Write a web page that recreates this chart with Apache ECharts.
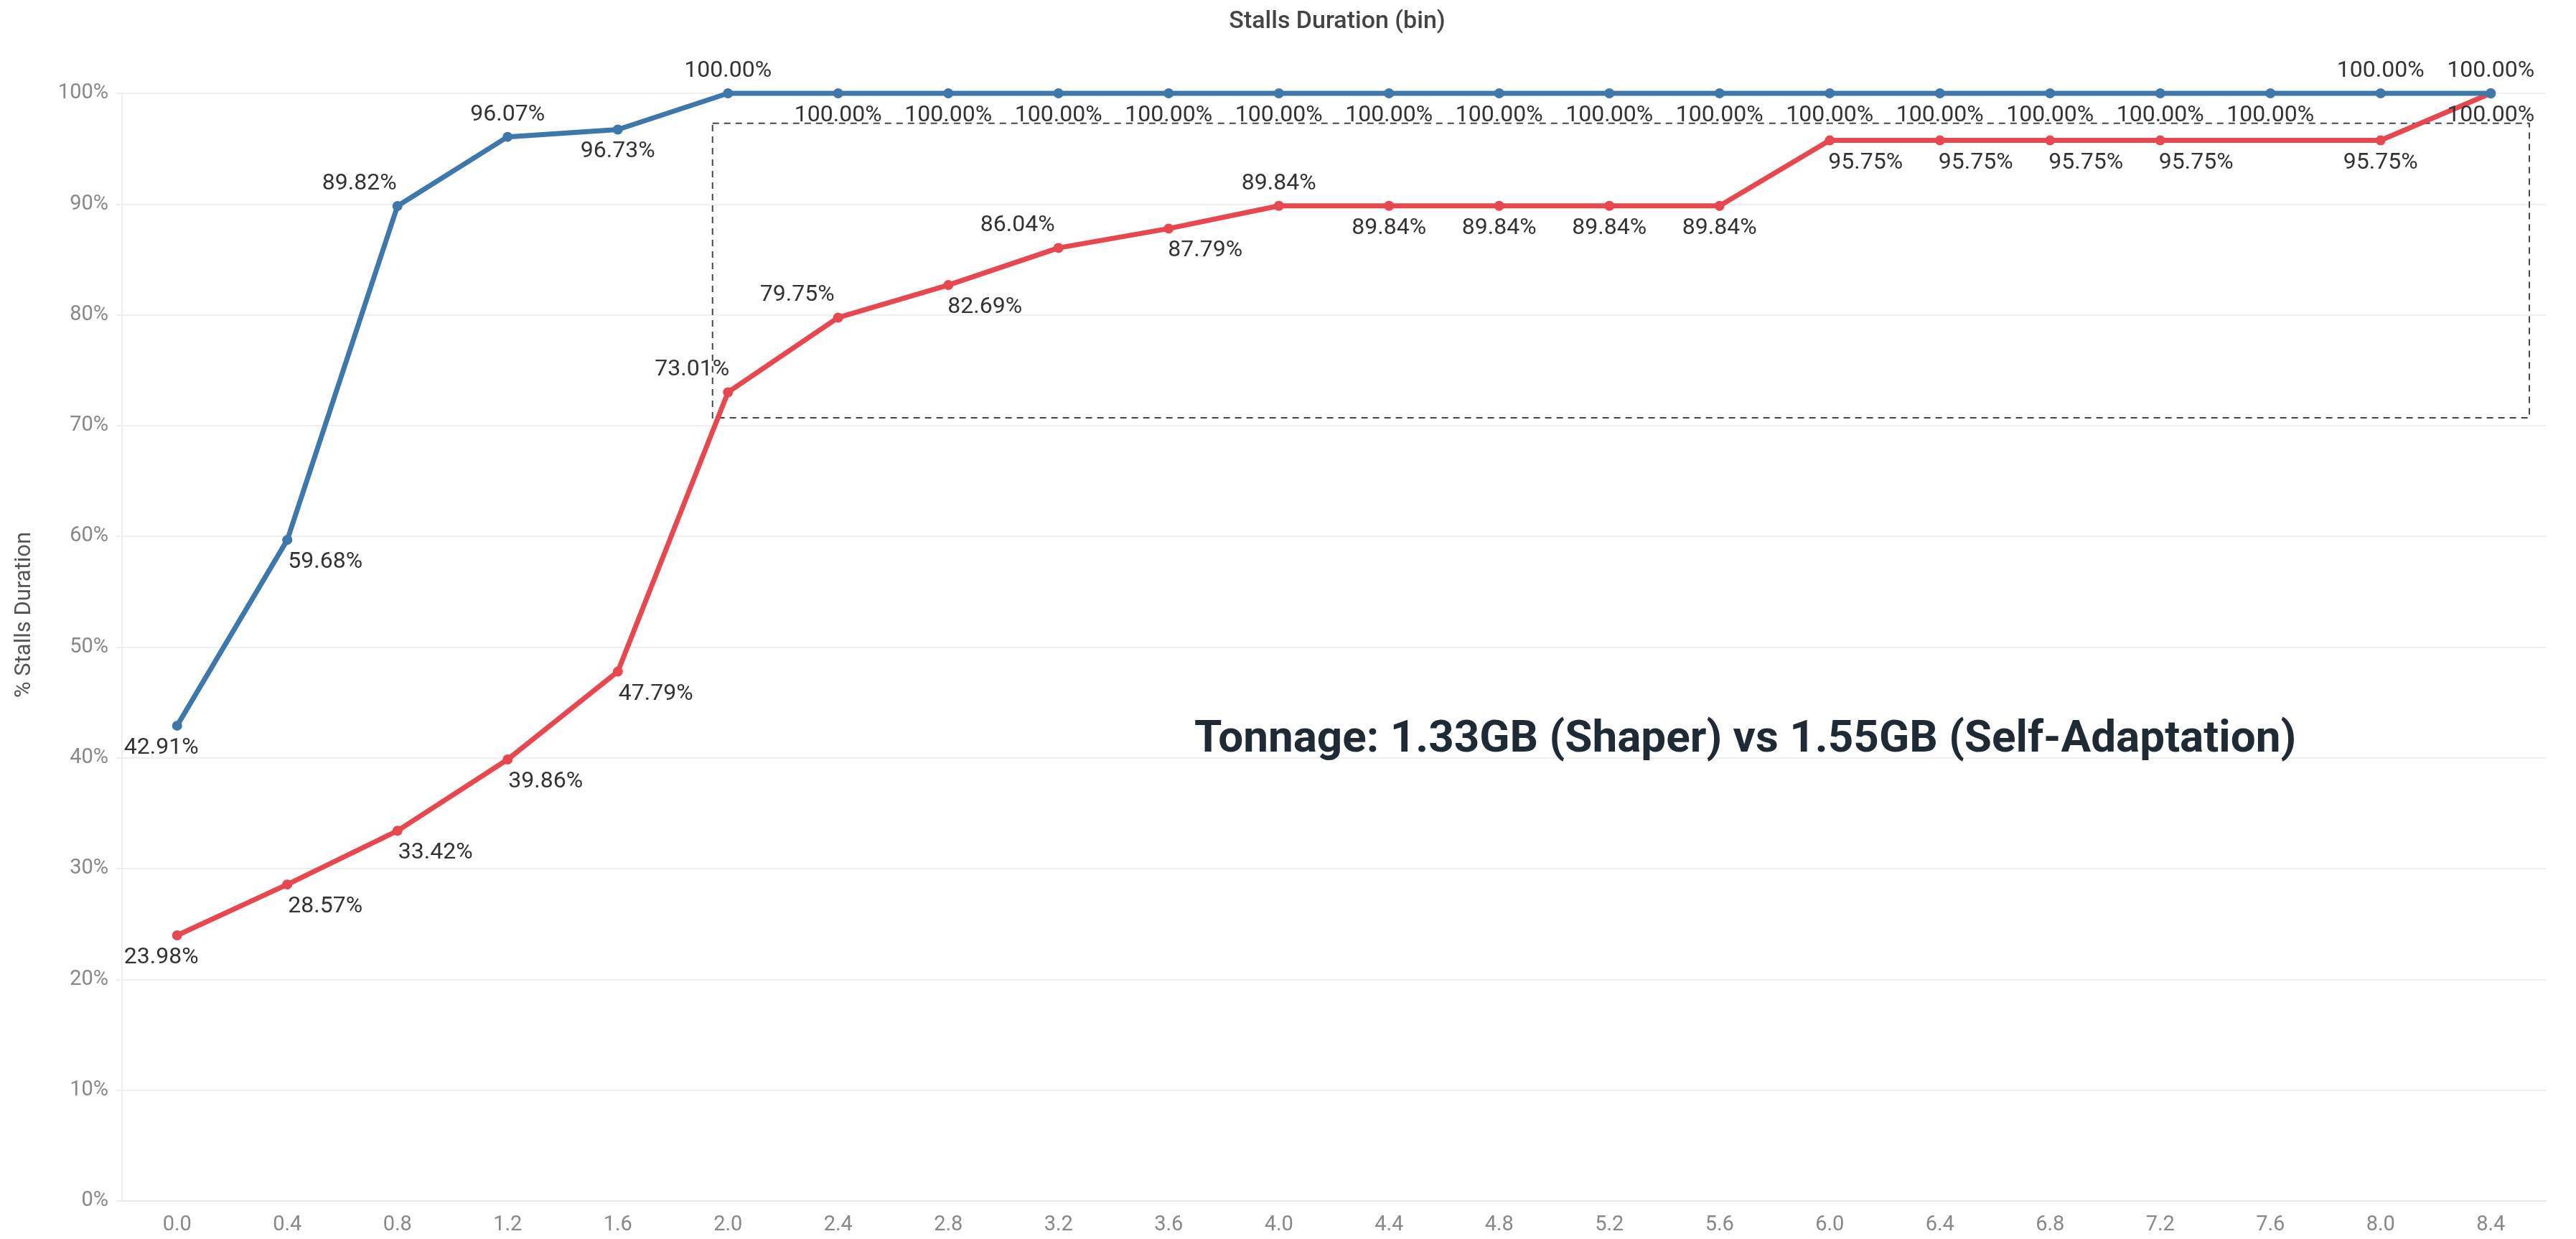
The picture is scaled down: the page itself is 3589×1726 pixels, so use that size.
<!DOCTYPE html>
<html>
<head>
<meta charset="utf-8">
<script src="https://cdn.jsdelivr.net/npm/echarts@6/dist/echarts.min.js"></script>
<style>
  html, body { margin: 0; padding: 0; background: #fff; }
  #main { width: 3589px; height: 1726px; }
</style>
</head>
<body>
<div id="main"></div>
<script>
// bins of stall duration (x axis)
const bins = ['0.0', '0.4', '0.8', '1.2', '1.6', '2.0', '2.4', '2.8', '3.2', '3.6', '4.0',
  '4.4', '4.8', '5.2', '5.6', '6.0', '6.4', '6.8', '7.2', '7.6', '8.0', '8.4'];
// cumulative % of stalls duration, blue line
const blueLine = [42.91, 59.68, 89.82, 96.07, 96.73, 100, 100, 100, 100, 100, 100,
  100, 100, 100, 100, 100, 100, 100, 100, 100, 100, 100];
// red line (no bin at 7.6)
const redLine = [23.98, 28.57, 33.42, 39.86, 47.79, 73.01, 79.75, 82.69, 86.04, 87.79, 89.84,
  89.84, 89.84, 89.84, 89.84, 95.75, 95.75, 95.75, 95.75, null, 95.75, 100];
const note = 'Tonnage: 1.33GB (Shaper) vs 1.55GB (Self-Adaptation)';
// dashed box: from bin to bin, value range
const boxBins = ['2.0', '8.4'];
const boxRange = [70.7, 97.3];

// label placement: [position, x offset]
const B = ['bottom', 0], T = ['top', 0];
const blueLab = [['bottom', -22], ['bottom', 53], ['top', -53], T, B, T,
  B, B, B, B, B, B, B, B, B, B, B, B, B, B, T, T];
const redLab = [['bottom', -22], ['bottom', 53], ['bottom', 53], ['bottom', 53], ['bottom', 53],
  ['top', -50], ['top', -57], ['bottom', 51], ['top', -57], ['bottom', 51], T,
  B, B, B, B, ['bottom', 50], ['bottom', 50], ['bottom', 50], ['bottom', 50], B, B, B];

function build(values, lab) {
  return values.map(function (v, i) {
    if (v == null) return null;
    return { value: v, label: { position: lab[i][0], offset: [lab[i][1], 0] } };
  });
}

let myChart = echarts.init(document.getElementById('main'));

const labelStyle = {
  show: true,
  distance: 8,
  fontFamily: 'Roboto',
  fontSize: 32,
  color: '#333',
  formatter: function (p) { return p.value.toFixed(2) + '%'; }
};

myChart.setOption({
  animation: false,
  backgroundColor: '#fff',
  title: {
    text: 'Stalls Duration (bin)',
    left: 1858,
    textAlign: 'center',
    top: 8,
    textStyle: { fontFamily: 'Roboto', fontSize: 34, fontWeight: 500, color: '#444' }
  },
  grid: { left: 170, right: 42, top: 130, bottom: 53 },
  xAxis: {
    type: 'category',
    data: bins,
    boundaryGap: true,
    axisLine: { lineStyle: { color: '#e8e8e8', width: 2 } },
    axisTick: { length: 10, lineStyle: { color: '#e8e8e8', width: 2 } },
    axisLabel: { margin: 19, fontFamily: 'Roboto', fontSize: 29, color: '#888' }
  },
  yAxis: {
    type: 'value',
    min: 0,
    max: 100,
    interval: 10,
    name: '% Stalls Duration',
    nameLocation: 'middle',
    nameRotate: 90,
    nameGap: 120,
    nameTextStyle: { fontFamily: 'Roboto', fontSize: 31, color: '#555', padding: [0, 0, 0, 90] },
    axisLine: { show: true, lineStyle: { color: '#f0f0f0', width: 2 } },
    axisTick: { show: true, length: 8, lineStyle: { color: '#eeeeee', width: 2 } },
    axisLabel: { margin: 19, fontFamily: 'Roboto', fontSize: 29, color: '#888',
      formatter: '{value}%' },
    splitLine: { lineStyle: { color: '#efefef', width: 2 } }
  },
  series: [{
    name: 'blue',
    type: 'line',
    data: build(blueLine, blueLab),
    clip: false,
    symbol: 'circle',
    symbolSize: 14,
    lineStyle: { color: '#3e77a9', width: 7 },
    itemStyle: { color: '#3e77a9' },
    label: labelStyle,
    z: 3
  }, {
    name: 'red',
    type: 'line',
    data: build(redLine, redLab),
    connectNulls: true,
    clip: false,
    symbol: 'circle',
    symbolSize: 14,
    lineStyle: { color: '#e8474f', width: 7 },
    itemStyle: { color: '#e8474f' },
    label: labelStyle,
    z: 2
  }]
});

// dashed highlight box + annotation text
let p0 = myChart.convertToPixel({ xAxisIndex: 0 }, bins.indexOf(boxBins[0]));
let p1 = myChart.convertToPixel({ xAxisIndex: 0 }, bins.indexOf(boxBins[1]));
let band = myChart.convertToPixel({ xAxisIndex: 0 }, 1) - myChart.convertToPixel({ xAxisIndex: 0 }, 0);
let yTop = myChart.convertToPixel({ yAxisIndex: 0 }, boxRange[1]);
let yBot = myChart.convertToPixel({ yAxisIndex: 0 }, boxRange[0]);
let x0 = p0 - band * 0.14;
let x1 = p1 + band * 0.35;

myChart.setOption({
  graphic: [{
    type: 'rect',
    shape: { x: x0, y: yTop, width: x1 - x0, height: yBot - yTop },
    style: { fill: 'none', stroke: '#3d4754', lineWidth: 2, lineDash: [9, 7] },
    z: 1
  }, {
    type: 'text',
    left: 1664,
    top: 1000,
    style: { text: note, font: 'bold 62px Roboto', fill: '#1f2a35' },
    z: 5
  }]
});
</script>
</body>
</html>
